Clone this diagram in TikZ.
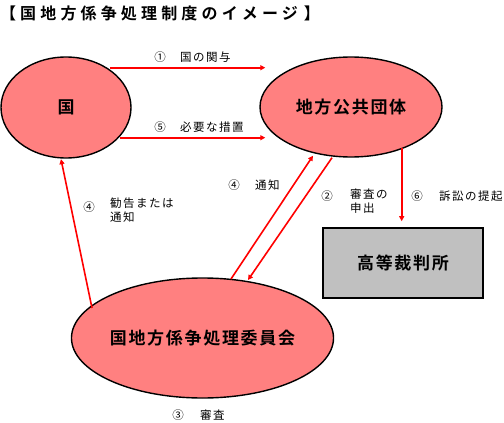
\documentclass[tikz,border=0pt]{standalone}
\usepackage{fontspec}
\usetikzlibrary{shapes.geometric,arrows.meta,calc}
\newfontfamily\jp{Noto Sans CJK JP}
\newfontfamily\jpb{Noto Sans CJK JP Bold}
\newfontfamily\jpbt{Noto Sans CJK JP Bold}[LetterSpace=26]
\newfontfamily\jpbl{Noto Sans CJK JP Bold}[LetterSpace=10]
\newfontfamily\jpsl{Noto Sans CJK JP}[LetterSpace=13]
\definecolor{salmon}{HTML}{FF8080}
\definecolor{boxgray}{HTML}{C0C0C0}
\tikzset{
  ell/.style={ellipse, draw=black, line width=1.4pt, fill=salmon, inner sep=0pt,
    font=\jpbl\fontsize{17}{20}\selectfont},
  courtbox/.style={rectangle, draw=black, line width=1.6pt, fill=boxgray, inner sep=0pt,
    font=\jpbl\fontsize{17}{20}\selectfont},
  arr/.style={draw=red, line width=1.6pt, -{Triangle[length=5pt,width=5pt]}},
  num/.style={inner sep=0pt, font=\jp\fontsize{11.5}{14}\selectfont},
  lbl/.style={inner sep=0pt, font=\jpsl\fontsize{11.5}{14}\selectfont, align=left},
  ttl/.style={inner sep=0pt, font=\jpbt\fontsize{16}{19}\selectfont, anchor=west}
}
\begin{document}
\begin{tikzpicture}[x=1pt,y=-1pt]
\useasboundingbox (0,0) rectangle (504,423);
\node[ttl] (title) at (0,13) {【\kern4pt 国地方係争処理制度のイメージ\kern6pt 】};

\node[ell, minimum width=130pt, minimum height=101pt] (kuni) at (66,107.5) {国};
\node[ell, minimum width=182pt, minimum height=100pt] (chiho) at (351,107) {地方公共団体};
\node[ell, minimum width=261pt, minimum height=120pt] (iin) at (202.5,338) {\raisebox{-3pt}{国地方係争処理委員会}};
\node[courtbox, minimum width=160pt, minimum height=70pt] (court) at (403,263) {\raisebox{-2pt}{高等裁判所}};

% (1) and (5)
\draw[arr] ($(kuni.center)+(44,-39.8)$) -- ($(chiho.west)+(6,-39.3)$);
\draw[arr] ($(kuni.center)+(54,30.2)$) -- ($(chiho.west)+(6,30.7)$);
% (4) left
\draw[arr] ($(iin.center)+(-110.5,-30)$) -- ($(kuni.south)+(-5,0.5)$);
% (4) notice and (2)
\draw[arr] ($(iin.center)+(28.5,-59)$) -- ($(chiho.south)+(-38,-2)$);
\draw[arr] ($(chiho.south)+(-19,0)$) -- ($(iin.center)+(45.5,-58)$);
% (6)
\draw[arr] ($(chiho.south)+(50.7,-10)$) -- ($(court.north)+(-1.3,-6)$);

\node[num] (n1) at (160,57) {①};
\node[lbl, anchor=west] (t1) at (180,57) {国の関与};
\node[num] (n5) at (160,127) {⑤};
\node[lbl, anchor=west] (t5) at (180,127) {必要な措置};
\node[num] (n4a) at (234,185) {④};
\node[lbl, anchor=west] (t4a) at (255,185) {通知};
\node[num] (n4b) at (89,207) {④};
\node[lbl, anchor=north west] (t4b) at (110,198) {勧告または\\通知};
\node[num] (n2) at (327,196) {②};
\node[lbl, anchor=north west] (t2) at (350,189) {審査の\\申出};
\node[num] (n6) at (417,196) {⑥};
\node[lbl, anchor=west] (t6) at (439,196) {訴訟の提起};
\node[num] (n3) at (178,415) {③};
\node[lbl, anchor=west] (t3) at (200,415) {審査};
\end{tikzpicture}
\end{document}
